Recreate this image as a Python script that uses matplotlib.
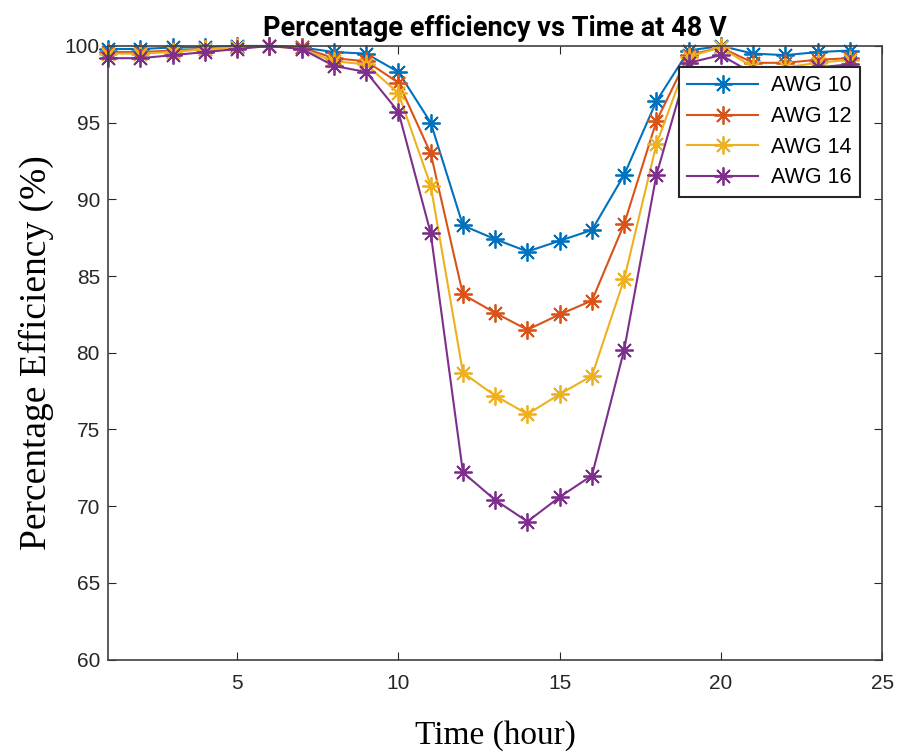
import matplotlib
matplotlib.use("Agg")
import matplotlib.pyplot as plt

# hourly efficiency readings at 48 V
hours = list(range(1, 25))
awg10 = [99.8, 99.8, 99.9, 99.9, 100.0, 100.0, 99.9, 99.6, 99.5, 98.3, 95.0, 88.3,
         87.4, 86.6, 87.3, 88.0, 91.6, 96.4, 99.7, 100.0, 99.5, 99.4, 99.6, 99.7]
awg12 = [99.6, 99.6, 99.7, 99.8, 99.9, 100.0, 99.9, 99.2, 99.0, 97.6, 93.0, 83.8,
         82.6, 81.5, 82.5, 83.4, 88.4, 95.1, 99.4, 99.9, 98.9, 98.9, 99.1, 99.2]
awg14 = [99.5, 99.5, 99.6, 99.8, 99.9, 100.0, 99.8, 99.0, 98.8, 96.9, 90.9, 78.7,
         77.2, 76.0, 77.3, 78.5, 84.8, 93.6, 99.3, 99.9, 98.6, 98.6, 98.9, 99.1]
awg16 = [99.2, 99.2, 99.4, 99.6, 99.8, 100.0, 99.8, 98.7, 98.3, 95.7, 87.8, 72.2,
         70.4, 69.0, 70.6, 72.0, 80.2, 91.6, 98.9, 99.4, 98.2, 98.2, 98.6, 98.8]

series = [("AWG 10", awg10, "#0072BD"),
          ("AWG 12", awg12, "#D95319"),
          ("AWG 14", awg14, "#EDB120"),
          ("AWG 16", awg16, "#7E2F8E")]

fig = plt.figure(figsize=(9.02, 7.53), dpi=100)
ax = fig.add_axes([0.12, 0.124, 0.858, 0.815])

for name, vals, col in series:
    ax.plot(hours, vals, color=col, lw=1.5, marker=(8, 2, 0), markersize=13,
            markeredgewidth=1.3, label=name, clip_on=False)

ax.set_xlim(1, 25)
ax.set_ylim(60, 100)
ax.set_xticks([5, 10, 15, 20, 25])
ax.set_yticks(range(60, 101, 5))
ax.tick_params(direction="in", length=6, labelsize=15, colors="#262626",
               top=True, right=True)
ax.tick_params(axis="x", pad=10)
ax.tick_params(axis="y", pad=6)
for lab in ax.get_xticklabels() + ax.get_yticklabels():
    lab.set_family("Liberation Sans")
for sp in ax.spines.values():
    sp.set_color("#404040")
    sp.set_linewidth(1.2)

ax.set_title("Percentage efficiency vs Time at 48 V", fontsize=19.5,
             fontweight="bold", family="Roboto", pad=7)
ax.set_xlabel("Time (hour)", fontsize=24, family="Liberation Serif", labelpad=20)
ax.set_ylabel("Percentage Efficiency (%)", fontsize=27, family="Liberation Serif",
              labelpad=8)

leg = ax.legend(loc="upper right", bbox_to_anchor=(0.972, 0.966), borderaxespad=0,
                fancybox=False, edgecolor="#262626", framealpha=1,
                prop={"family": "Liberation Sans", "size": 15.5},
                handlelength=3.3, labelspacing=0.45, handletextpad=0.6,
                borderpad=0.4)
leg.get_frame().set_linewidth(1.5)

fig.savefig("out.png", dpi=100)
